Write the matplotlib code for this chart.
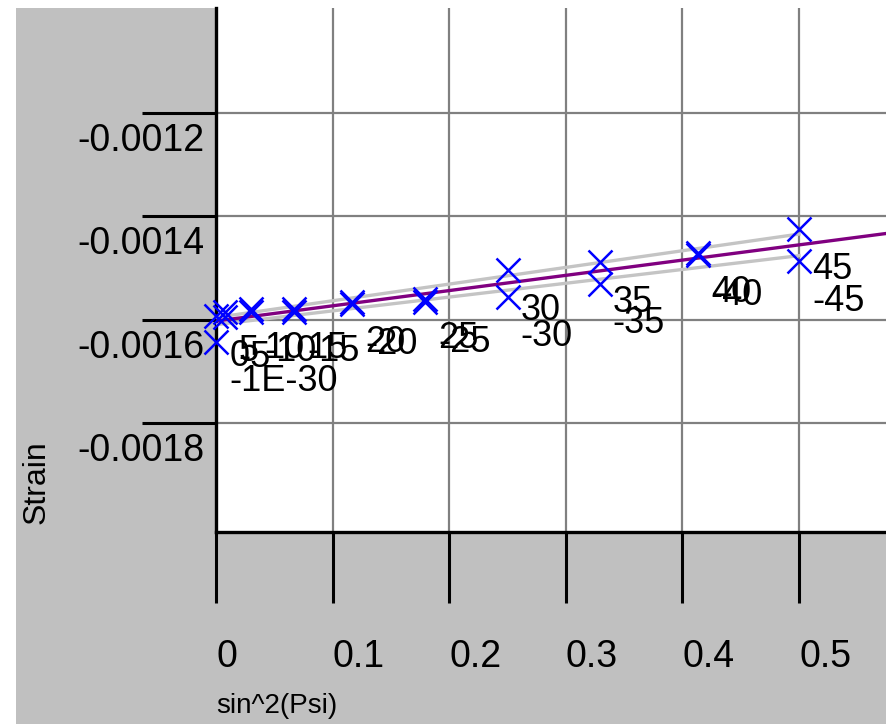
import numpy as np
import matplotlib
matplotlib.use("Agg")
import matplotlib.pyplot as plt
from matplotlib.patches import Rectangle
from matplotlib.transforms import ScaledTranslation

plt.rcParams['font.family'] = ['Liberation Sans', 'DejaVu Sans']

# sin^2(psi) for the tilt angles
sin2psi = [0.0, 0.0076, 0.0302, 0.067, 0.117, 0.179, 0.25, 0.329, 0.413, 0.5]
# strain for +psi and -psi
strain_pos = [-0.001592, -0.001584, -0.001578, -0.001578, -0.001565,
              -0.001559, -0.001503, -0.001489, -0.00147, -0.001424]
strain_neg = [-0.001642, -0.001595, -0.001584, -0.001584, -0.00157,
              -0.001566, -0.001555, -0.00153, -0.001474, -0.001487]
labels_pos = ["0", "5", "10", "15", "20", "25", "30", "35", "40", "45"]
labels_neg = ["-1E-30", "-5", "-10", "-15", "-20", "-25", "-30", "-35", "-40", "-45"]

xticks = [0, 0.1, 0.2, 0.3, 0.4, 0.5]
yticks = [-0.0018, -0.0016, -0.0014, -0.0012]

W, H = 886, 724
fig = plt.figure(figsize=(W / 100, H / 100), dpi=100, facecolor="white")
# grey panel behind everything
fig.patches.append(Rectangle((16 / W, 0), 1 - 16 / W, 1 - 8 / H,
                             transform=fig.transFigure, facecolor="#c0c0c0",
                             edgecolor="none", zorder=-5))

ax = fig.add_axes([216 / W, (H - 532) / H, (W - 216) / W, (532 - 8) / H])
ax.set_facecolor("white")
ax.set_xlim(0, 0.5746)
ax.set_ylim(-0.00201, -0.000997)

x = np.array(sin2psi)
yp = np.array(strain_pos)
yn = np.array(strain_neg)

# linear fits for each branch and for all points
cp = np.polyfit(x, yp, 1)
cn = np.polyfit(x, yn, 1)
ca = np.polyfit(np.concatenate([x, x]), np.concatenate([yp, yn]), 1)
xf = np.array([0, x.max()])
ax.plot(xf, np.polyval(cp, xf), color="#c4c4c4", lw=2.4, zorder=3)
ax.plot(xf, np.polyval(cn, xf), color="#c4c4c4", lw=2.4, zorder=3)
xa = np.array([0, 0.5746])
ax.plot(xa, np.polyval(ca, xa), color="#800080", lw=2.4, zorder=4)

ax.plot(x, yp, ls="none", marker="x", ms=17, mew=1.8, color="#0000ff", zorder=5, clip_on=False)
ax.plot(x, yn, ls="none", marker="x", ms=17, mew=1.8, color="#0000ff", zorder=5, clip_on=False)

for xi, yi, t in zip(x, yp, labels_pos):
    ax.annotate(t, (xi, yi), xytext=(9.5, -29), textcoords="offset points",
                ha="left", va="center", fontsize=26, zorder=6)
for xi, yi, t in zip(x, yn, labels_neg):
    ax.annotate(t, (xi, yi), xytext=(9.5, -29), textcoords="offset points",
                ha="left", va="center", fontsize=26, zorder=6)

# axes styling
for s in ["top", "right"]:
    ax.spines[s].set_visible(False)
for s in ["left", "bottom"]:
    ax.spines[s].set_linewidth(2.4)
    ax.spines[s].set_color("black")
ax.set_xticks(xticks)
ax.set_xticklabels(["0", "0.1", "0.2", "0.3", "0.4", "0.5"])
ax.set_yticks(yticks)
ax.set_yticklabels(["-0.0018", "-0.0016", "-0.0014", "-0.0012"])
ax.grid(True, color="#808080", lw=1.6)
ax.set_axisbelow(True)
ax.tick_params(axis="x", length=51, width=2.2, direction="out", pad=26, labelsize=27)
ax.tick_params(axis="y", length=53, width=2.2, direction="out", pad=-45, labelsize=27)
for lab in ax.get_xticklabels():
    lab.set_ha("left")
for lab in ax.get_yticklabels():
    lab.set_transform(lab.get_transform() + ScaledTranslation(0, -0.24, fig.dpi_scale_trans))

fig.text(37 / W, 1 - 482 / H, "Strain", rotation=90, ha="center", va="center", fontsize=23)
fig.text(216 / W, 1 - 706 / H, "sin^2(Psi)", ha="left", va="center", fontsize=20)

fig.savefig("out.png", dpi=100, facecolor=fig.get_facecolor())
